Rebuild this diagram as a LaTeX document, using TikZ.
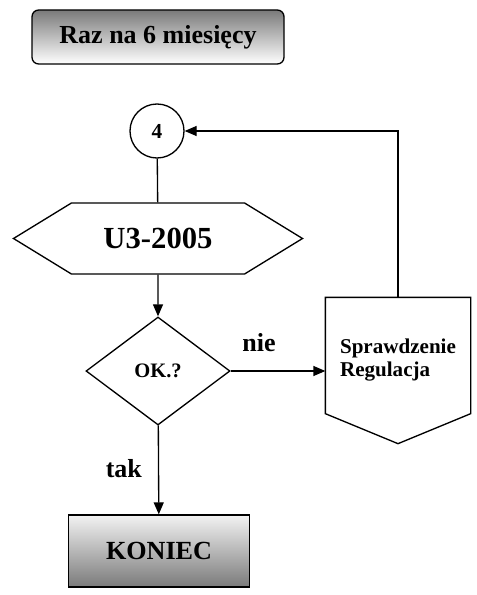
\documentclass[tikz,border=0pt]{standalone}
\usepackage{fontspec}
\setmainfont{Liberation Serif}
\usetikzlibrary{arrows.meta, shapes.geometric, shapes.symbols}

\begin{document}
\begin{tikzpicture}[
    x=0.75pt, y=-0.75pt,
    line width=1pt,
    titlebox/.style={rectangle, rounded corners=5pt, draw, top color=black!52, bottom color=white,
        minimum width=189pt, minimum height=40.5pt, inner sep=0pt, font=\bfseries\fontsize{19.5}{23}\selectfont},
    connector/.style={circle, draw, fill=white, minimum size=40.5pt, inner sep=0pt,
        font=\bfseries\fontsize{16}{19}\selectfont},
    prepbox/.style={signal, signal to=west and east, signal pointer angle=63, draw,
        minimum width=216.75pt, minimum height=53.25pt, inner sep=0pt, font=\bfseries\fontsize{23}{27}\selectfont},
    decision/.style={diamond, draw, aspect=1.333, minimum width=108pt, minimum height=81pt, inner sep=0pt,
        font=\bfseries\fontsize{15.4}{18}\selectfont},
    offpage/.style={rectangle, minimum width=108pt, minimum height=86.25pt, inner sep=0pt, align=left,
        font=\bfseries\fontsize{15.8}{17.3}\selectfont},
    endbox/.style={rectangle, draw, top color=black!5, bottom color=black!52,
        minimum width=135.75pt, minimum height=54pt, inner sep=0pt, font=\bfseries\fontsize{19.6}{23}\selectfont},
    branch/.style={font=\bfseries\fontsize{19.5}{23}\selectfont, inner sep=0pt},
    arrow/.style={-{Triangle[length=9pt, width=7.5pt]}}
]
    \useasboundingbox (0,0) rectangle (477,595);

    % Header
    \node[titlebox] (title) at (158,37) {Raz na 6 miesięcy};

    % Main column
    \node[connector] (c4)     at (157,131)   {4};
    \node[prepbox]   (u3)     at (158,238.5) {U3-2005};
    \node[decision]  (ok)     at (158,371)   {OK.?};
    \node[endbox]    (koniec) at (159,551)   {KONIEC};

    % Check / adjust
    \node[offpage]   (spr)    at (398,355.5) {\rule{0pt}{18pt}Sprawdzenie\\Regulacja};
    \draw (spr.north west) -- (spr.north east) -- (spr.south east)
        -- ([yshift=-22.5pt]spr.south) -- (spr.south west) -- cycle;

    % Connectors
    \draw (c4) -- (u3);
    \draw[arrow] (u3) -- (ok);
    \draw[arrow] (ok.east) -- node[branch, above=14pt, pos=0.3] {nie} (ok.east -| spr.west);
    \draw[arrow] (ok) -- node[branch, left=12pt, pos=0.48] {tak} (koniec);
    \draw[arrow] (spr.north) |- (c4.east);

\end{tikzpicture}
\end{document}
